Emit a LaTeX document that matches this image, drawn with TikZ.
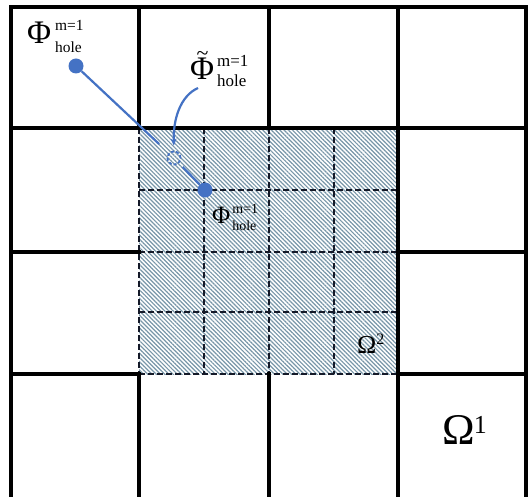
\documentclass[tikz,border=0pt]{standalone}
\usepackage{fontspec}
\setmainfont{Liberation Serif}
\usetikzlibrary{patterns.meta,arrows.meta}
\definecolor{blu}{RGB}{68,114,196}
\definecolor{hatchc}{RGB}{120,150,168}
\definecolor{fineline}{RGB}{20,25,40}
% #1 big size, #2 gap, #3 script size, #4 row distance, #5 lowering of the lower row
\newcommand{\holescripts}[5]{%
  \hspace{#2}\raisebox{-#5}{\fontsize{#3}{#4}\selectfont
  \begin{tabular}[b]{@{}l@{}}m=1\\hole\end{tabular}}}
\begin{document}
\begin{tikzpicture}[x=1bp,y=-1bp,
  coarse/.style={line width=3.2bp,black,line cap=rect},
  fine/.style={line width=1.8bp,fineline,dash pattern=on 6bp off 3bp},
  dotn/.style={circle,fill=blu,inner sep=0pt,minimum size=15bp},
  holen/.style={circle,draw=blu,line width=1.8bp,dash pattern=on 3bp off 2bp,inner sep=0pt,minimum size=13bp},
  conn/.style={blu,line width=2.2bp},
  lbl/.style={inner sep=0pt,anchor=base west},
]
\useasboundingbox (0,0) rectangle (528,497);
\fill[white] (0,0) rectangle (528,497);
% hatched fine region
\path[pattern={Lines[angle=-45,distance=3pt,line width=1.2pt]},pattern color=hatchc] (139,128) rectangle (398,374);
% dashed fine grid
\foreach \x in {139,204,269,334} \draw[fine] (\x,128) -- (\x,374);
\foreach \y in {190,252,312,374} \draw[fine] (139,\y) -- (398,\y);
% coarse grid
\draw[coarse] (11,7) -- (526,7);
\draw[coarse] (11,128) -- (526,128);
\draw[coarse] (11,252) -- (139,252);
\draw[coarse] (398,252) -- (526,252);
\draw[coarse] (11,374) -- (139,374);
\draw[coarse] (398,374) -- (526,374);
\draw[coarse] (11,7) -- (11,500);
\draw[coarse] (139,7) -- (139,128);
\draw[coarse] (139,374) -- (139,500);
\draw[coarse] (269,7) -- (269,128);
\draw[coarse] (269,374) -- (269,500);
\draw[coarse] (398,7) -- (398,500);
\draw[coarse] (526,7) -- (526,500);
% points
\node[dotn] (d1) at (76,66) {};
\node[holen] (hc) at (174,158) {};
\node[dotn] (d2) at (205,190) {};
\draw[conn,shorten >=13bp] (d1) -- (hc);
\draw[conn,shorten <=5bp] (hc) -- (d2);
\coordinate (ast) at (198,88);
\draw[conn,-{Stealth[length=7bp,width=6bp]},shorten >=5bp] (ast) .. controls (180,96) and (173,120) .. (hc.north);
% labels
\node[lbl] (p1) at (27,44) {{\fontsize{33}{33}\selectfont Φ}\holescripts{33}{4bp}{15.5}{23}{9bp}};
\node[lbl] (p2) at (190,80) {{\fontsize{33}{33}\selectfont\makebox[0pt][l]{\hspace{6.5bp}\raisebox{19bp}{\fontsize{22}{22}\selectfont\char`\~}}Φ}\holescripts{33}{3bp}{17}{21}{7bp}};
\node[lbl] (p3) at (212,223) {{\fontsize{25}{25}\selectfont Φ}\holescripts{25}{2bp}{14}{17}{7bp}};
\node[lbl] (o2) at (357,353) {{\fontsize{26}{26}\selectfont Ω}\raisebox{9bp}{\fontsize{16}{16}\selectfont 2}};
\node[lbl] (o1) at (442,444) {{\fontsize{44}{44}\selectfont Ω}\hspace{-1bp}\raisebox{11bp}{\fontsize{26}{26}\selectfont 1}};
\end{tikzpicture}
\end{document}
